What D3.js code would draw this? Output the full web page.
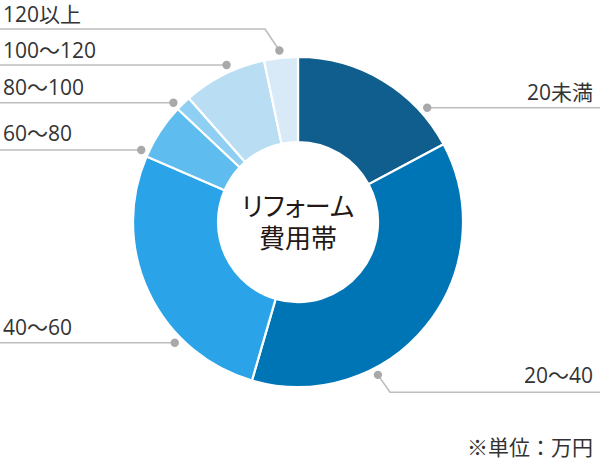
<!DOCTYPE html>
<html><head><meta charset="utf-8">
<script src="https://cdn.jsdelivr.net/npm/d3@7/dist/d3.min.js"></script>
<style>body{margin:0;background:#fff}svg{display:block}</style>
</head><body>
<svg id="c" width="600" height="460"></svg>
<script>
const categories = ["20未満","20～40","40～60","60～80","80～100","100～120","120以上"];
const values = [17.2, 37.3, 27.0, 5.5, 1.5, 8.2, 3.3];
const colors = ["#105e8e","#0075b6","#2ba3e8","#5ebdee","#8ecff3","#b9def3","#d8eaf7"];
const centerTitle = ["リフォーム","費用帯"];
const unitNote = "※単位：万円";

// label layout (positions only)
const labelLayout = [
  {side:"right", textY:100, lineY:107.7},
  {side:"right", textY:383, lineY:392.3, elbowX:390, dotAngle:152.4},
  {side:"left",  textY:335, lineY:342.7},
  {side:"left",  textY:141, lineY:150},
  {side:"left",  textY:95,  lineY:102.7},
  {side:"left",  textY:58,  lineY:65},
  {side:"left",  textY:22,  lineY:29, elbowX:265, dotAngle:353.8}
];

const W=600,H=460,cx=298,cy=222,R=165,r0=80,rDot=172.5;
const svg=d3.select("#c");
const g=svg.append("g").attr("transform",`translate(${cx},${cy})`);
const pie=d3.pie().sort(null).value(d=>d);
const arc=d3.arc().innerRadius(r0).outerRadius(R);
const arcs=pie(values);
g.selectAll("path").data(arcs).join("path")
  .attr("d",arc).attr("fill",(d,i)=>colors[i])
  .attr("stroke","#fff").attr("stroke-width",2.2).attr("stroke-linejoin","miter");

const font='"Open Sans","Noto Sans CJK JP",sans-serif';
const lg=svg.append("g");
labelLayout.forEach((L,i)=>{
  let dx,dy,pts;
  if(L.dotAngle!==undefined){
    const a=L.dotAngle*Math.PI/180;
    dx=cx+rDot*Math.sin(a); dy=cy-rDot*Math.cos(a);
    if(L.side==="left") pts=[[0,L.lineY],[L.elbowX,L.lineY],[dx,dy]];
    else pts=[[W,L.lineY],[L.elbowX,L.lineY],[dx,dy]];
  } else {
    const off=Math.sqrt(rDot*rDot-(L.lineY-cy)*(L.lineY-cy));
    dx = L.side==="left"? cx-off : cx+off; dy=L.lineY;
    pts = L.side==="left"? [[0,L.lineY],[dx,dy]] : [[W,L.lineY],[dx,dy]];
  }
  lg.append("path").attr("d",d3.line()(pts)).attr("fill","none")
    .attr("stroke","#bdbdbd").attr("stroke-width",1.6);
  lg.append("circle").attr("cx",dx).attr("cy",dy).attr("r",4.2).attr("fill","#a9a9a9");
  lg.append("text").attr("x",L.side==="left"?3:593).attr("y",L.textY)
    .attr("text-anchor",L.side==="left"?"start":"end")
    .attr("font-family",font).attr("font-size",21).attr("fill","#333")
    .text(categories[i]);
});

svg.append("g").selectAll("text").data(centerTitle).join("text")
  .attr("x",cx).attr("y",(d,i)=>204+i*32).attr("text-anchor","middle")
  .attr("dominant-baseline","central")
  .style("font-feature-settings",'"palt"')
  .attr("font-family",'"Noto Sans CJK JP",sans-serif').attr("font-weight",400)
  .attr("font-size",26).attr("fill","#231815").text(d=>d);

svg.append("text").attr("x",593).attr("y",455).attr("text-anchor","end")
  .attr("font-family",font).attr("font-size",21).attr("fill","#333").text(unitNote);
</script>
</body></html>
